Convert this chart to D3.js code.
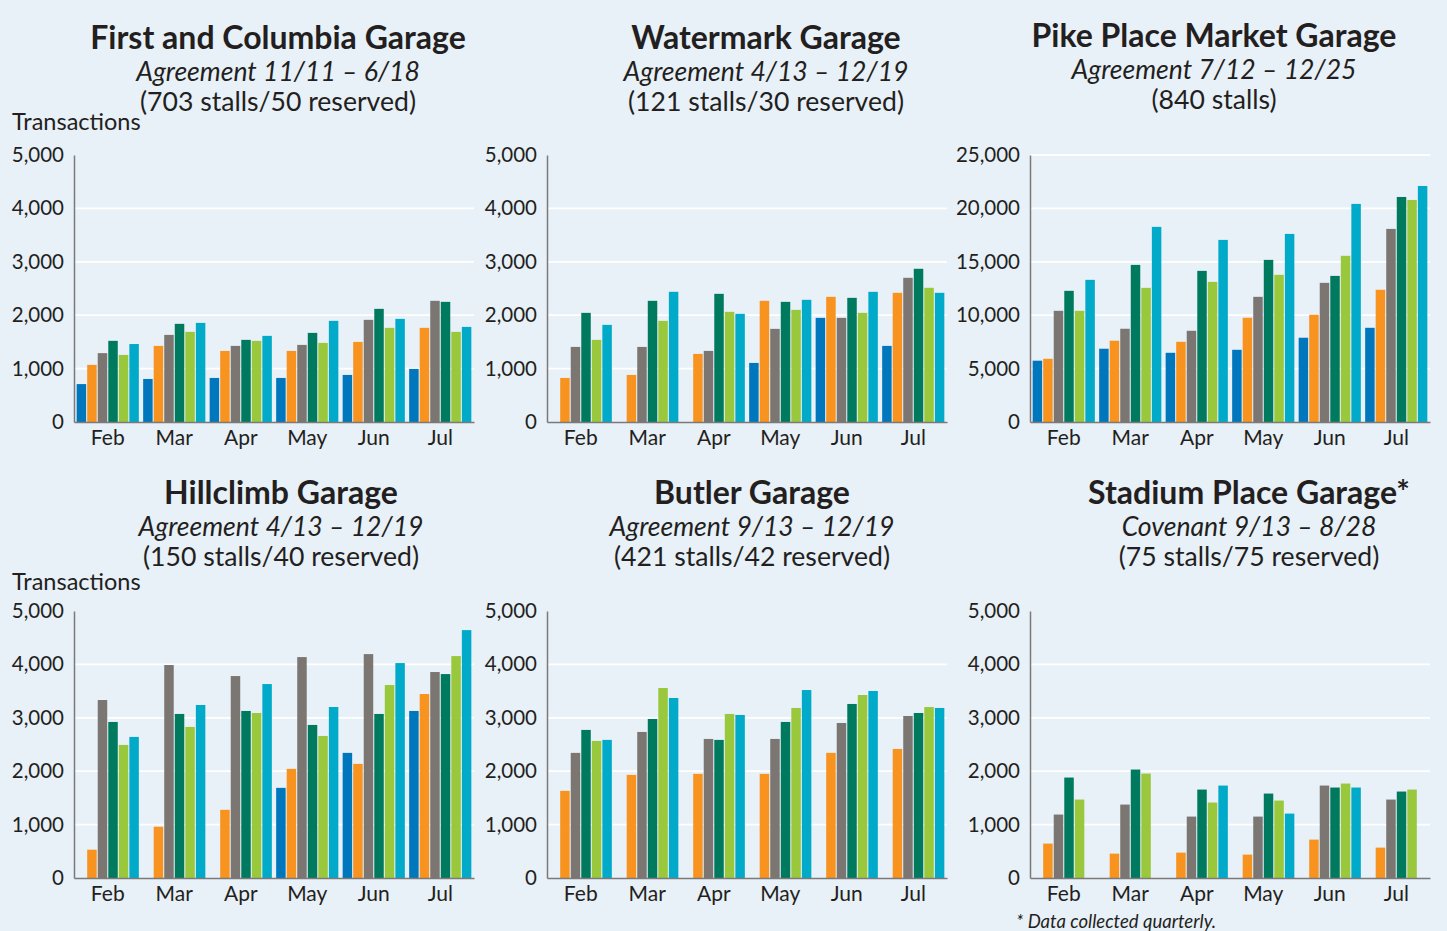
<!DOCTYPE html>
<html><head><meta charset="utf-8">
<script src="https://cdn.jsdelivr.net/npm/d3@7"></script>
<style>
html,body{margin:0;padding:0;background:#e8f0f8;}
svg{display:block;font-family:Lato,"Open Sans",sans-serif;}
</style></head>
<body>
<svg id="chart" width="1447" height="931"></svg>
<script>
const months = ["Feb","Mar","Apr","May","Jun","Jul"];
const seriesKeys = ["s1","s2","s3","s4","s5","s6"];
const seriesColors = ["#0077bd","#f7931e","#7b7672","#007a5e","#9ac83d","#00aac8"];

const ticksSmall = [0,1000,2000,3000,4000,5000];
const ticksPike = [0,5000,10000,15000,20000,25000];

const firstColumbia = [
  [710,806,825,825,881,994],
  [1070,1425,1331,1331,1500,1763],
  [1290,1631,1425,1444,1913,2269],
  [1520,1838,1538,1669,2119,2250],
  [1256,1688,1519,1481,1763,1688],
  [1460,1856,1613,1894,1931,1781]
];
const watermark = [
  [null,null,null,1106,1950,1425],
  [825,881,1275,2269,2344,2419],
  [1406,1406,1331,1744,1950,2700],
  [2044,2269,2400,2250,2325,2869],
  [1538,1894,2063,2100,2044,2513],
  [1819,2438,2025,2288,2438,2419]
];
const pikePlace = [
  [5740,6860,6480,6760,7890,8820],
  [5920,7610,7510,9760,10040,12380],
  [10410,8730,8540,11720,13030,18080],
  [12280,14710,14150,15180,13680,21070],
  [10410,12560,13120,13780,15560,20790],
  [13310,18270,17050,17610,20420,22100]
];
const hillclimb = [
  [null,null,null,1688,2343,3128],
  [530,960,1277,2044,2137,3445],
  [3333,3988,3782,4137,4193,3857],
  [2922,3072,3128,2866,3072,3819],
  [2492,2829,3090,2660,3614,4156],
  [2642,3240,3632,3202,4025,4642]
];
const butler = [
  [null,null,null,null,null,null],
  [1632,1931,1950,1950,2343,2417],
  [2343,2735,2604,2604,2903,3034],
  [2773,2978,2586,2922,3259,3090],
  [2567,3558,3072,3184,3427,3202],
  [2586,3371,3053,3520,3502,3184]
];
const stadium = [
  [null,null,null,null,null,null],
  [644,456,475,438,719,569],
  [1188,1375,1150,1150,1731,1469],
  [1881,2031,1656,1581,1694,1619],
  [1469,1956,1413,1450,1769,1656],
  [null,null,1731,1206,1694,null]
];

const titles = ["First and Columbia Garage","Watermark Garage","Pike Place Market Garage","Hillclimb Garage","Butler Garage","Stadium Place Garage*"];
const subtitles = ["Agreement 11/11 \u2013 6/18","Agreement 4/13 \u2013 12/19","Agreement 7/12 \u2013 12/25","Agreement 4/13 \u2013 12/19","Agreement 9/13 \u2013 12/19","Covenant 9/13 \u2013 8/28"];
const capacities = ["(703 stalls/50 reserved)","(121 stalls/30 reserved)","(840 stalls)","(150 stalls/40 reserved)","(421 stalls/42 reserved)","(75 stalls/75 reserved)"];
const panelData = [firstColumbia, watermark, pikePlace, hillclimb, butler, stadium];
const panelTicks = [ticksSmall, ticksSmall, ticksPike, ticksSmall, ticksSmall, ticksSmall];

// layout
const layout = [
  {x:74, y:155, cx:278, ty:49, gridTop:false, yLabelY:130},
  {x:547, y:155, cx:766, ty:49, gridTop:false},
  {x:1030, y:155, cx:1214, ty:47, gridTop:true},
  {x:74, y:611, cx:281, ty:504, gridTop:false, yLabelY:590},
  {x:547, y:611, cx:752, ty:504, gridTop:false},
  {x:1030, y:611, cx:1249, ty:504, gridTop:false}
];
const W = 400, H = 267;
const textColor = "#231f20";
const svg = d3.select("#chart");
const fmt = d3.format(",");

panelData.forEach((data, i) => {
  const L = layout[i];
  const g = svg.append("g").attr("transform", `translate(${L.x},${L.y})`);
  const ticks = panelTicks[i];
  const y = d3.scaleLinear().domain([0, ticks[ticks.length-1]]).range([H, 0]);
  const x0 = d3.scaleBand().domain(months).range([0, W]).paddingInner(0.065).paddingOuter(0.04);
  const x1 = d3.scaleBand().domain(seriesKeys).range([0, x0.bandwidth()]).paddingInner(0.1).paddingOuter(0);

  // titles
  const tg = svg.append("g").attr("fill", textColor).attr("text-anchor","middle");
  tg.append("text").attr("x", L.cx).attr("y", L.ty).attr("font-size", 32).attr("font-weight", 700).text(titles[i]);
  tg.append("text").attr("x", L.cx).attr("y", L.ty + 32).attr("font-size", 26.6).attr("font-style","italic").text(subtitles[i]);
  tg.append("text").attr("x", L.cx).attr("y", L.ty + 62).attr("font-size", 26.6).text(capacities[i]);
  if (L.yLabelY) {
    svg.append("text").attr("x", 12).attr("y", L.yLabelY).attr("font-size", 23.5).attr("fill", textColor).text("Transactions");
  }

  // gridlines
  const gridVals = ticks.filter((t, k) => k > 0 && (k < ticks.length-1 || L.gridTop));
  g.selectAll("line.grid").data(gridVals).join("line").attr("class","grid")
    .attr("x1", 0).attr("x2", W).attr("y1", d => y(d)).attr("y2", d => y(d))
    .attr("stroke", "#ffffff").attr("stroke-width", 1.8);

  // y axis
  const yAxis = d3.axisLeft(y).tickValues(ticks).tickFormat(fmt).tickSize(0).tickPadding(10);
  const ya = g.append("g").call(yAxis);
  ya.select(".domain").attr("stroke", "#7a7a7a").attr("stroke-width", 1.5);
  ya.selectAll("text").attr("font-size", 20.5).attr("fill", textColor).attr("font-family","Lato, sans-serif");

  // bars
  const groups = g.selectAll("g.month").data(months).join("g").attr("class","month")
    .attr("transform", d => `translate(${x0(d)},0)`);
  groups.selectAll("rect").data((m, mi) => seriesKeys.map((s, si) => ({s, si, v: data[si][mi]})).filter(d => d.v != null))
    .join("rect")
    .attr("x", d => x1(d.s)).attr("width", x1.bandwidth())
    .attr("y", d => y(d.v)).attr("height", d => H - y(d.v))
    .attr("fill", d => seriesColors[d.si]);

  // x axis
  const xAxis = d3.axisBottom(x0).tickSize(0).tickPadding(8);
  const xa = g.append("g").attr("transform", `translate(0,${H})`).call(xAxis);
  xa.select(".domain").attr("stroke", "#7a7a7a").attr("stroke-width", 1.5);
  xa.selectAll("text").attr("font-size", 21).attr("fill", textColor).attr("font-family","Lato, sans-serif");
});

svg.append("text").attr("x", 1016).attr("y", 928).attr("font-size", 18.5).attr("font-style","italic")
  .attr("fill", textColor).text("* Data collected quarterly.");
</script>
</body></html>
